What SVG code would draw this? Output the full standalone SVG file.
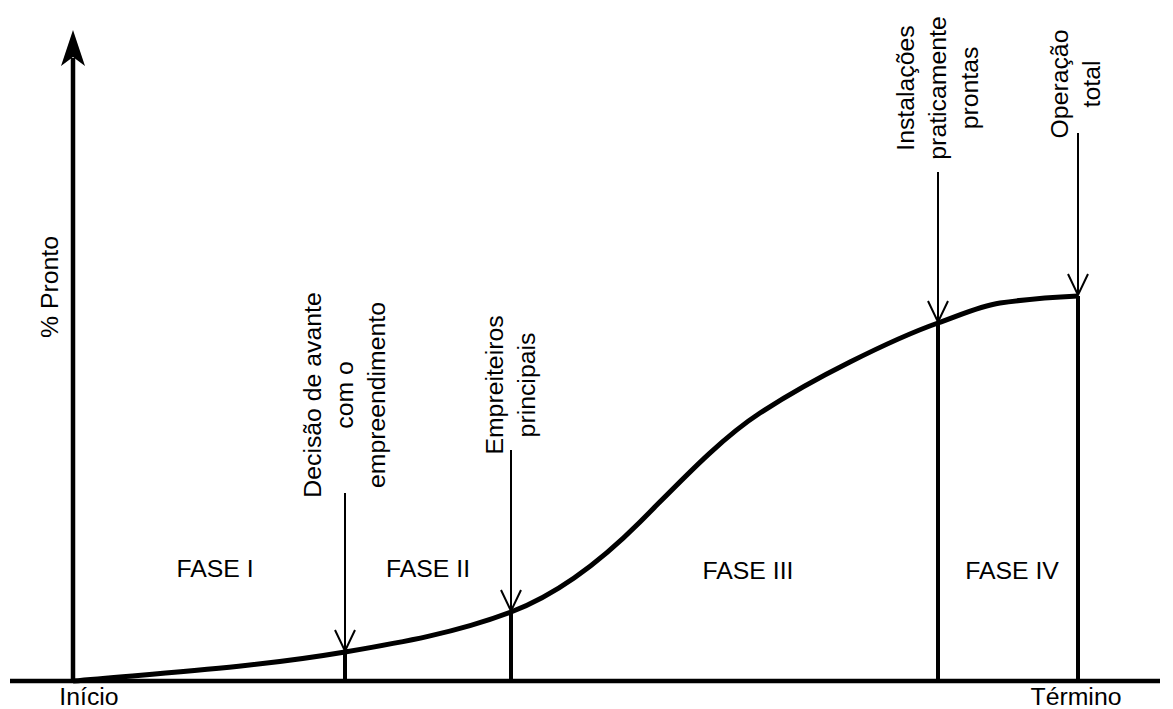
<svg xmlns="http://www.w3.org/2000/svg" width="1173" height="709" viewBox="0 0 1173 709">
  <defs>
    <style>
      .lbl { font-family: "Liberation Sans", Arial, sans-serif; font-size: 24.8px; fill: #000; }
      .mid { text-anchor: middle; }
      .axis { stroke: #000; stroke-width: 4.5; fill: none; }
      .bar { stroke: #000; stroke-width: 4; fill: none; }
      .curve { stroke: #000; stroke-width: 5; fill: none; stroke-linejoin: round; }
      .pointer { stroke: #000; stroke-width: 2; fill: none; marker-end: url(#vhead); }
    </style>
    <marker id="vhead" markerUnits="userSpaceOnUse" markerWidth="24" markerHeight="24" viewBox="-22 -12 24 24" refX="0" refY="0" orient="auto">
      <path d="M-21,-10 L0,0 L-21,10" fill="none" stroke="#000" stroke-width="2"/>
    </marker>
  </defs>
  <rect width="1173" height="709" fill="#fff"/>

  <!-- axes -->
  <g id="axes">
    <line class="axis" x1="73" y1="683" x2="73" y2="58"/>
    <path d="M73,30 L85,66 L73,57 L61,66 Z" fill="#000"/>
    <line class="axis" x1="10" y1="681" x2="1160" y2="681"/>
    <text class="lbl" transform="translate(58,287) rotate(-90)" text-anchor="middle">% Pronto</text>
    <text class="lbl mid" x="89" y="705">Início</text>
    <text class="lbl mid" x="1076" y="705">Término</text>
  </g>

  <!-- progress curve and milestone bars -->
  <g id="connectors">
    <path class="curve" d="M73,681 C163.7,672.8 254.3,667.4 345,652 C400.3,642.6 455.7,633 511,612 C554,595.7 597,565 640,522 C680,482 720,439 760,413 C790,393.5 820,377 850,362 C879.3,347.3 908.7,333.3 938,323 C958.7,315.8 979.3,306.1 1000,303 C1026,299.1 1052,297.3 1078,296"/>
    <line class="bar" x1="345" y1="652" x2="345" y2="681"/>
    <line class="bar" x1="511" y1="612" x2="511" y2="681"/>
    <line class="bar" x1="938" y1="323" x2="938" y2="681"/>
    <line class="bar" x1="1078" y1="296" x2="1078" y2="681"/>
    <line class="pointer" x1="345" y1="493" x2="345" y2="651"/>
    <line class="pointer" x1="511" y1="450" x2="511" y2="611"/>
    <line class="pointer" x1="938" y1="172" x2="938" y2="322"/>
    <line class="pointer" x1="1078" y1="133" x2="1078" y2="295"/>
  </g>

  <!-- milestone labels -->
  <g id="decisao" transform="translate(345,395) rotate(-90)">
    <text class="lbl mid" x="0" y="-24">Decisão de avante</text>
    <text class="lbl mid" x="0" y="8">com o</text>
    <text class="lbl mid" x="0" y="40">empreendimento</text>
  </g>
  <g id="empreiteiros" transform="translate(511,385) rotate(-90)">
    <text class="lbl mid" x="0" y="-8">Empreiteiros</text>
    <text class="lbl mid" x="0" y="24">principais</text>
  </g>
  <g id="instalacoes" transform="translate(938,88) rotate(-90)">
    <text class="lbl mid" x="0" y="-24">Instalações</text>
    <text class="lbl mid" x="0" y="8">praticamente</text>
    <text class="lbl mid" x="0" y="40">prontas</text>
  </g>
  <g id="operacao" transform="translate(1078,84) rotate(-90)">
    <text class="lbl mid" x="0" y="-10">Operação</text>
    <text class="lbl mid" x="0" y="22">total</text>
  </g>

  <!-- phase labels -->
  <g id="fase1"><text class="lbl mid" x="215" y="577">FASE I</text></g>
  <g id="fase2"><text class="lbl mid" x="428" y="577">FASE II</text></g>
  <g id="fase3"><text class="lbl mid" x="748" y="579">FASE III</text></g>
  <g id="fase4"><text class="lbl mid" x="1012" y="579">FASE IV</text></g>
</svg>
